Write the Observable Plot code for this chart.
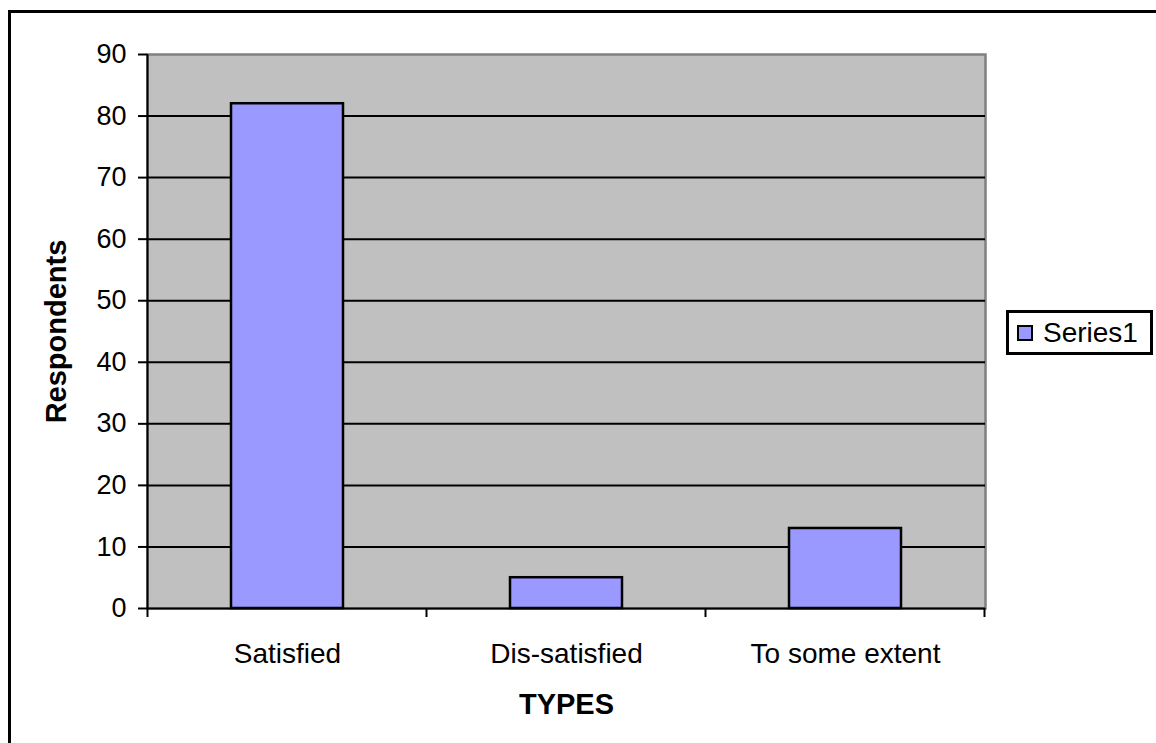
<!DOCTYPE html>
<html><head><meta charset="utf-8">
<script src="https://cdn.jsdelivr.net/npm/d3@7"></script>
<script src="https://cdn.jsdelivr.net/npm/@observablehq/plot@0.6"></script>
<style>
body{margin:0;background:#fff;font-family:"Liberation Sans",Arial,sans-serif;}
#wrap{position:relative;width:1156px;height:743px;overflow:hidden;background:#fff;}
#frame{position:absolute;left:8px;top:10px;width:1300px;height:900px;border:3px solid #000;box-sizing:border-box;}
#chart{position:absolute;left:0;top:0;}
#legend{position:absolute;left:1006px;top:310px;width:147px;height:45px;border:3px solid #000;background:#fff;box-sizing:border-box;display:flex;align-items:center;font-size:28px;color:#000;}
#legend .sw{width:16px;height:16px;border:2px solid #000;background:#9999ff;margin:0 10px 0 8px;box-sizing:border-box;flex:none;}
</style></head>
<body>
<div id="wrap"><div id="frame"></div><div id="chart"></div><div id="legend"></div></div>
<script>
const categories = ["Satisfied", "Dis-satisfied", "To some extent"];
const respondents = [82, 5, 13];
const yTicks = [0, 10, 20, 30, 40, 50, 60, 70, 80, 90];
const seriesName = "Series1";
const xTitle = "TYPES";
const yTitle = "Respondents";

const data = categories.map((c, i) => ({type: c, value: respondents[i]}));

function bandAxis(index, scales, values, dims) {
  const x = scales.x, y = scales.y;
  const bw = x.bandwidth();
  const step = x.step ? x.step() : (dims.width - dims.marginLeft - dims.marginRight) / categories.length;
  const g = d3.create("svg:g");
  const y0 = y(0);
  const edges = categories.map(c => x(c) - (step - bw) / 2);
  edges.push(edges[edges.length - 1] + step);
  for (const e of edges) {
    g.append("line").attr("x1", e).attr("x2", e).attr("y1", y0).attr("y2", y0 + 9)
      .attr("stroke", "#000").attr("stroke-width", 2);
  }
  g.append("line").attr("x1", edges[0]).attr("x2", edges[0])
    .attr("y1", y(yTicks[yTicks.length - 1])).attr("y2", y0 + 1)
    .attr("stroke", "#000").attr("stroke-width", 2);
  return g.node();
}

const chart = Plot.plot({
  width: 1156,
  height: 743,
  marginLeft: 147,
  marginRight: 171,
  marginTop: 54,
  marginBottom: 135,
  style: {fontFamily: "'Liberation Sans', Arial, sans-serif", fontSize: "27px", color: "#000", background: "transparent"},
  x: {domain: categories, paddingInner: 0.6, paddingOuter: 0.3, label: null},
  y: {domain: [0, 90], ticks: yTicks, label: null},
  marks: [
    Plot.frame({fill: "#c0c0c0", stroke: "#808080", strokeWidth: 2.5}),
    Plot.ruleY(yTicks.filter(d => d < 90), {stroke: "#000", strokeWidth: 2}),
    Plot.barY(data, {x: "type", y: "value", fill: "#9999ff", stroke: "#000", strokeWidth: 2.5}),
    Plot.axisY({ticks: yTicks, tickSize: 9, tickPadding: 12, tickFormat: d => d, stroke: "#000", strokeWidth: 2, fill: "#000", fontSize: 27}),
    Plot.axisX({tickSize: 0, tickPadding: 35, fill: "#000", fontSize: 28}),
    bandAxis,
    Plot.text([xTitle], {frameAnchor: "bottom", dy: 105, fontWeight: "bold", fontSize: 29, fill: "#000", textAnchor: "middle"}),
    Plot.text([yTitle], {frameAnchor: "left", dx: -91, rotate: -90, fontWeight: "bold", fontSize: 29, fill: "#000", textAnchor: "middle"})
  ]
});
document.getElementById("chart").appendChild(chart);

const lg = document.getElementById("legend");
lg.innerHTML = '<div class="sw"></div><span></span>';
lg.querySelector("span").textContent = seriesName;
</script>
</body></html>
